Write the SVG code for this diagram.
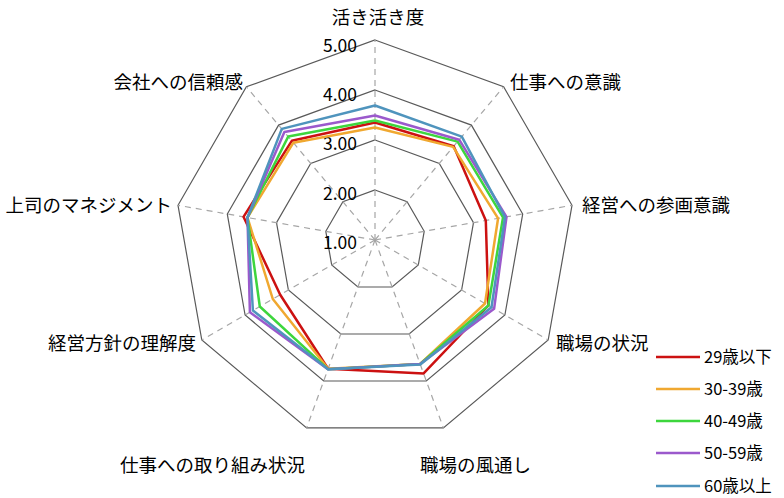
<svg xmlns="http://www.w3.org/2000/svg" width="784" height="498" viewBox="0 0 784 498">
<style>
text{font-family:"Noto Sans CJK JP","Noto Sans",sans-serif;fill:#000}
.lbl{font-size:18.5px}
.tick{font-size:17.5px;text-anchor:end}
.leg{font-size:16.5px}
.ring{fill:none;stroke:#595959;stroke-width:1.2}
.spoke{stroke:#a6a6a6;stroke-width:1.2;stroke-dasharray:6 5}
.s{fill:none;stroke-width:2.5;stroke-linejoin:round}
</style>
<rect width="784" height="498" fill="#fff"/>
<g id="grid" transform="translate(375,240)">
<polygon class="ring" points="0,-200 128.6,-153.2 197,-34.7 173.2,100 68.4,187.9 -68.4,187.9 -173.2,100 -197,-34.7 -128.6,-153.2"/>
<polygon class="ring" points="0,-150 96.4,-114.9 147.7,-26 129.9,75 51.3,141 -51.3,141 -129.9,75 -147.7,-26 -96.4,-114.9"/>
<polygon class="ring" points="0,-100 64.3,-76.6 98.5,-17.4 86.6,50 34.2,94 -34.2,94 -86.6,50 -98.5,-17.4 -64.3,-76.6"/>
<polygon class="ring" points="0,-50 32.1,-38.3 49.2,-8.7 43.3,25 17.1,47 -17.1,47 -43.3,25 -49.2,-8.7 -32.1,-38.3"/>
<line class="spoke" x1="0" y1="0" x2="0" y2="-200"/>
<line class="spoke" x1="0" y1="0" x2="128.6" y2="-153.2"/>
<line class="spoke" x1="0" y1="0" x2="197" y2="-34.7"/>
<line class="spoke" x1="0" y1="0" x2="173.2" y2="100"/>
<line class="spoke" x1="0" y1="0" x2="68.4" y2="187.9"/>
<line class="spoke" x1="0" y1="0" x2="-68.4" y2="187.9"/>
<line class="spoke" x1="0" y1="0" x2="-173.2" y2="100"/>
<line class="spoke" x1="0" y1="0" x2="-197" y2="-34.7"/>
<line class="spoke" x1="0" y1="0" x2="-128.6" y2="-153.2"/>
</g>
<g id="ticks">
<text class="tick" x="357" y="52">5.00</text>
<text class="tick" x="357" y="101">4.00</text>
<text class="tick" x="357" y="150">3.00</text>
<text class="tick" x="357" y="200">2.00</text>
<text class="tick" x="357" y="249">1.00</text>
</g>
<g id="series" transform="translate(375,240)">
<polygon class="s" stroke="#cc1111" points="0,-117.5 78.7,-93.8 110.8,-19.5 113.4,65.5 48.6,133.4 -46.9,128.7 -94.8,54.8 -131.5,-23.2 -83.2,-99.2"/>
<polygon class="s" stroke="#f0a830" points="0,-112.5 78.1,-93.1 123.1,-21.7 110,63.5 45.1,124 -46.9,128.7 -102.2,59 -127.5,-22.5 -81.6,-97.3"/>
<polygon class="s" stroke="#3dd63d" points="0,-119.5 82.6,-98.4 128,-22.6 113.4,65.5 45.1,124 -47,129.2 -115.2,66.5 -127.5,-22.5 -86.8,-103.4"/>
<polygon class="s" stroke="#9b59cc" points="0,-124.5 84.2,-100.3 131.5,-23.2 119.1,68.8 45.1,124 -47,129.2 -125.1,72.3 -127.5,-22.5 -90.6,-108"/>
<polygon class="s" stroke="#4f94bd" points="0,-134.5 86.8,-103.4 130,-22.9 116.5,67.3 45.3,124.5 -47,129.2 -122.1,70.5 -127.5,-22.5 -93.2,-111.1"/>
</g>
<g id="labels">
<text class="lbl" x="378" y="24" text-anchor="middle">活き活き度</text>
<text class="lbl" x="510" y="89">仕事への意識</text>
<text class="lbl" x="582" y="212">経営への参画意識</text>
<text class="lbl" x="556" y="350">職場の状況</text>
<text class="lbl" x="420" y="472">職場の風通し</text>
<text class="lbl" x="305" y="472" text-anchor="end">仕事への取り組み状況</text>
<text class="lbl" x="196" y="350" text-anchor="end">経営方針の理解度</text>
<text class="lbl" x="172" y="212" text-anchor="end">上司のマネジメント</text>
<text class="lbl" x="243" y="89" text-anchor="end">会社への信頼感</text>
</g>
<g id="legend">
<line x1="656" y1="357" x2="700" y2="357" stroke="#cc1111" stroke-width="2.5"/>
<text class="leg" x="704" y="363">29歳以下</text>
<line x1="656" y1="389" x2="700" y2="389" stroke="#f0a830" stroke-width="2.5"/>
<text class="leg" x="704" y="395">30-39歳</text>
<line x1="656" y1="421" x2="700" y2="421" stroke="#3dd63d" stroke-width="2.5"/>
<text class="leg" x="704" y="427">40-49歳</text>
<line x1="656" y1="453" x2="700" y2="453" stroke="#9b59cc" stroke-width="2.5"/>
<text class="leg" x="704" y="459">50-59歳</text>
<line x1="656" y1="486" x2="700" y2="486" stroke="#4f94bd" stroke-width="2.5"/>
<text class="leg" x="704" y="492">60歳以上</text>
</g>
</svg>
